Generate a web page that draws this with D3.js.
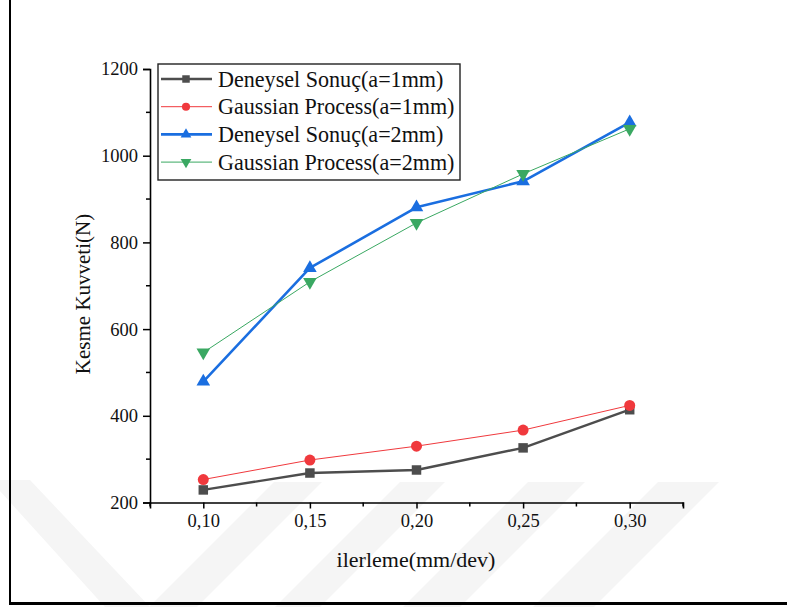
<!DOCTYPE html>
<html>
<head>
<meta charset="utf-8">
<script src="https://cdn.jsdelivr.net/npm/d3@7"></script>
<style>
  html, body { margin: 0; padding: 0; background: #ffffff; }
  svg { display: block; }
  text { font-family: "Times New Roman", "Liberation Serif", "DejaVu Serif", serif; fill: #111; }
</style>
</head>
<body>
<svg id="chart" width="787" height="607"></svg>
<script>
// ---- data ----
const xValues = [0.10, 0.15, 0.20, 0.25, 0.30];
const xTickLabels = ["0,10", "0,15", "0,20", "0,25", "0,30"];
const yTickValues = [200, 400, 600, 800, 1000, 1200];
const deneysel1 = [229, 268, 275, 326, 414];
const gaussian1 = [253, 298, 330, 367, 424];
const deneysel2 = [479, 741, 881, 941, 1077];
const gaussian2 = [546, 709, 845, 958, 1062];
const seriesNames = ["Deneysel Sonuç(a=1mm)", "Gaussian Process(a=1mm)", "Deneysel Sonuç(a=2mm)", "Gaussian Process(a=2mm)"];
const xTitle = "ilerleme(mm/dev)";
const yTitle = "Kesme Kuvveti(N)";

// ---- styles ----
const styles = [
  { color: "#4d4d4d", width: 2.4, symbol: d3.symbolSquare, size: 90, legendSize: 56 },
  { color: "#f0393d", width: 1, symbol: d3.symbolCircle, size: 95, legendSize: 52 },
  { color: "#1a6ee0", width: 2.6, symbol: d3.symbolTriangle, size: 80, legendSize: 50, rot: 0 },
  { color: "#3aa862", width: 1, symbol: d3.symbolTriangle, size: 80, legendSize: 50, rot: 180 }
];
const allSeries = [deneysel1, gaussian1, deneysel2, gaussian2];

const svg = d3.select("#chart");

// ---- faint background watermark ----
const wm = svg.append("g").attr("fill", "#f5f5f5");
const stripeTops = [[274, 322], [400, 445], [528, 585], [658, 719]];
stripeTops.forEach(t => {
  wm.append("polygon").attr("points",
    `${t[0]},482 ${t[1]},482 ${t[1]-125},607 ${t[0]-125},607`);
});
wm.append("polygon").attr("points", "-10,480 30,480 150,607 105,607");

// ---- frame ----
svg.append("line").attr("x1", 10).attr("x2", 10).attr("y1", 0).attr("y2", 604)
  .attr("stroke", "#000").attr("stroke-width", 2);
svg.append("line").attr("x1", 9).attr("x2", 787).attr("y1", 603.5).attr("y2", 603.5)
  .attr("stroke", "#000").attr("stroke-width", 3);

// ---- scales ----
const x = d3.scaleLinear().domain([0.075, 0.325]).range([150, 683]);
const y = d3.scaleLinear().domain([200, 1200]).range([502.5, 69]);

// ---- axes ----
const xMinor = d3.range(0, 6).map(i => 0.075 + i * 0.05);
const yMinor = d3.range(0, 5).map(i => 300 + i * 200);

const xAxisG = svg.append("g").attr("transform", "translate(0,502.5)");
xAxisG.call(d3.axisBottom(x).tickValues(xValues).tickFormat((d, i) => xTickLabels[i]).tickSizeOuter(0).tickSize(6).tickPadding(5));
xAxisG.append("g").selectAll("line").data(xMinor).join("line")
  .attr("x1", d => x(d)).attr("x2", d => x(d)).attr("y1", 0).attr("y2", 4)
  .attr("stroke", "#000").attr("stroke-width", 1.5);

const yAxisG = svg.append("g").attr("transform", "translate(150,0)");
yAxisG.call(d3.axisLeft(y).tickValues(yTickValues).tickFormat(d3.format("d")).tickSizeOuter(0).tickSize(7).tickPadding(5));
yAxisG.append("g").selectAll("line").data(yMinor).join("line")
  .attr("y1", d => y(d)).attr("y2", d => y(d)).attr("x1", 0).attr("x2", -4)
  .attr("stroke", "#000").attr("stroke-width", 1.5);

[xAxisG, yAxisG].forEach(g => {
  g.select(".domain").attr("stroke", "#000").attr("stroke-width", 1.6);
  g.selectAll(".tick line").attr("stroke", "#000").attr("stroke-width", 1.5);
  g.selectAll(".tick text").attr("font-size", 18.5).attr("fill", "#111")
    .attr("font-family", "'Times New Roman','Liberation Serif',serif");
});
xAxisG.selectAll(".tick text").attr("dy", "0.75em");

// ---- titles ----
svg.append("text").attr("x", 416).attr("y", 567).attr("text-anchor", "middle")
  .attr("font-size", 22).text(xTitle);
svg.append("text").attr("transform", "translate(90,294) rotate(-90)").attr("text-anchor", "middle")
  .attr("font-size", 21).text(yTitle);

// ---- series ----
const plot = svg.append("g");
allSeries.forEach((vals, si) => {
  const st = styles[si];
  const pts = vals.map((v, i) => [x(xValues[i]), y(v)]);
  const g = plot.append("g");
  g.append("path").attr("d", d3.line()(pts)).attr("fill", "none")
    .attr("stroke", st.color).attr("stroke-width", st.width).attr("stroke-linejoin", "round");
  g.selectAll("path.m").data(pts).join("path").attr("class", "m")
    .attr("d", d3.symbol().type(st.symbol).size(st.size))
    .attr("transform", d => `translate(${d[0]},${d[1]}) rotate(${st.rot || 0})`)
    .attr("fill", st.color);
});

// ---- legend ----
const lg = svg.append("g");
lg.append("rect").attr("x", 158).attr("y", 64).attr("width", 302).attr("height", 116)
  .attr("fill", "#fff").attr("stroke", "#222").attr("stroke-width", 1.4);
seriesNames.forEach((name, i) => {
  const st = styles[i];
  const cy = 79 + i * 27.7;
  lg.append("line").attr("x1", 161).attr("x2", 212).attr("y1", cy).attr("y2", cy)
    .attr("stroke", st.color).attr("stroke-width", st.width);
  lg.append("path").attr("d", d3.symbol().type(st.symbol).size(st.legendSize))
    .attr("transform", `translate(186,${cy}) rotate(${st.rot || 0})`).attr("fill", st.color);
  lg.append("text").attr("x", 218).attr("y", cy + 7.5).attr("font-size", 22.1).text(name);
});
</script>
</body>
</html>
